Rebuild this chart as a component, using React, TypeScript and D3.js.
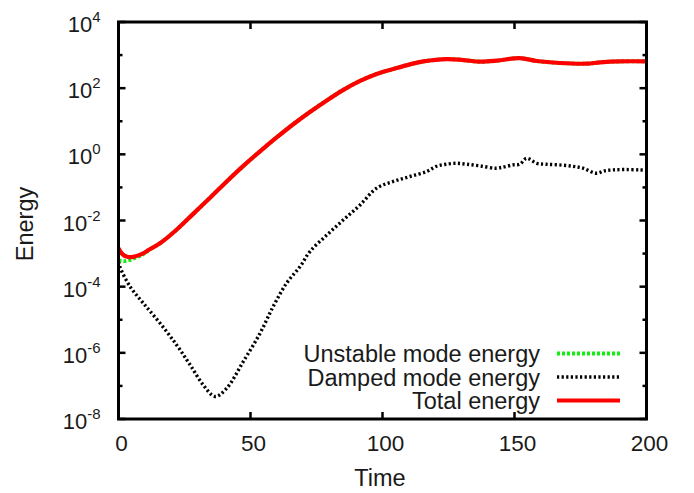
import React from "react";
import * as d3 from "d3";

// ---- data (time, log10 energy) ----
const totalTime = [0, 1, 2, 3, 4.4, 6, 8, 9.4, 12, 15.7, 22, 28.3, 34.7, 41, 47.3, 53.6, 59.9, 66.2, 72.5, 78.9, 85.2, 91.5, 97.8, 104.1, 110.4, 115.5, 124.3, 130.6, 136.9, 143.3, 152, 158.4, 167.2, 177.3, 182.4, 190, 200];
const totalLog = [-2.84, -2.97, -3.05, -3.09, -3.11, -3.09, -3.04, -2.99, -2.86, -2.69, -2.28, -1.8, -1.31, -0.82, -0.35, 0.09, 0.51, 0.91, 1.28, 1.63, 1.95, 2.22, 2.43, 2.58, 2.72, 2.81, 2.88, 2.85, 2.8, 2.83, 2.91, 2.82, 2.76, 2.74, 2.78, 2.81, 2.81];

const unstableTime = [0, 1, 2, 3, 4.4, 6, 8, 9.4, 12, 15.7, 22, 28.3, 34.7, 41, 47.3, 53.6, 59.9, 66.2, 72.5, 78.9, 85.2, 91.5, 97.8, 104.1, 110.4, 115.5, 124.3, 130.6, 136.9, 143.3, 152, 158.4, 167.2, 177.3, 182.4, 190, 200];
const unstableLog = [-3.2, -3.22, -3.23, -3.22, -3.19, -3.14, -3.07, -3.01, -2.87, -2.69, -2.28, -1.8, -1.31, -0.82, -0.35, 0.09, 0.51, 0.91, 1.28, 1.63, 1.95, 2.22, 2.43, 2.58, 2.72, 2.81, 2.88, 2.85, 2.8, 2.83, 2.91, 2.82, 2.76, 2.74, 2.78, 2.81, 2.81];

const dampedTime = [0, 0.6, 4.4, 9.4, 15.7, 22, 27.1, 32.1, 36.6, 41, 47.3, 53.6, 58.6, 63.7, 68.8, 72.5, 78.9, 85.2, 91.5, 97.8, 104.1, 110.4, 116.7, 120.5, 124, 128, 132, 137, 143, 146, 149.5, 152, 154.6, 158.4, 162, 167, 172, 176, 181, 184, 187.4, 192, 197.5, 200];
const dampedLog = [-3.25, -3.42, -4.0, -4.5, -5.1, -5.76, -6.36, -6.97, -7.32, -7.07, -6.26, -5.41, -4.6, -3.89, -3.39, -2.94, -2.44, -1.98, -1.53, -1.02, -0.82, -0.67, -0.52, -0.36, -0.3, -0.27, -0.3, -0.35, -0.42, -0.38, -0.32, -0.3, -0.12, -0.27, -0.3, -0.32, -0.36, -0.42, -0.57, -0.5, -0.47, -0.46, -0.47, -0.48];

const xTicks = [0, 50, 100, 150, 200];
const yMajorExp = [-8, -6, -4, -2, 0, 2, 4];
const yMinorExp = [-7, -5, -3, -1, 1, 3];

const seriesNames = ["Unstable mode energy", "Damped mode energy", "Total energy"];

const W = 694;
const H = 493;
const left = 118.5;
const right = 646.5;
const top = 22;
const bottom = 419;
const FONT = "'Liberation Sans', Arial, Helvetica, sans-serif";
const TXT = "#1a1a1a";

export default function App() {
  const x = d3.scaleLinear().domain([0, 200]).range([left, right]);
  const y = d3.scaleLog().domain([1e-8, 1e4]).range([bottom, top]);

  const mk = (ts: number[], ls: number[]) =>
    ts.map((t, i) => [t, Math.pow(10, ls[i])] as [number, number]);

  const line = d3
    .line<[number, number]>()
    .x((d) => x(d[0]))
    .y((d) => y(d[1]))
    .curve(d3.curveCatmullRom.alpha(0.5));

  const unstable = mk(unstableTime, unstableLog);
  const damped = mk(dampedTime, dampedLog);
  const total = mk(totalTime, totalLog);

  const styles = [
    { stroke: "#11ee11", width: 4, dash: "3,2" },
    { stroke: "#000000", width: 3.4, dash: "2.2,2.4" },
    { stroke: "#ff0000", width: 4.2, dash: undefined as string | undefined },
  ];

  return (
    <svg
      width={W}
      height={H}
      style={{ position: "fixed", left: 0, top: 0, background: "#fff" }}
      fontFamily={FONT}
    >
      <rect x={0} y={0} width={W} height={H} fill="#fff" />
      <defs>
        <clipPath id="plot">
          <rect x={left} y={top} width={right - left} height={bottom - top} />
        </clipPath>
      </defs>

      {/* ticks */}
      {xTicks.map((t) => (
        <g key={"xt" + t} stroke="#000" strokeWidth={2.5}>
          <line x1={x(t)} x2={x(t)} y1={bottom} y2={bottom - 7} />
          <line x1={x(t)} x2={x(t)} y1={top} y2={top + 7} />
        </g>
      ))}
      {yMajorExp.map((e) => (
        <g key={"ym" + e} stroke="#000" strokeWidth={2.5}>
          <line x1={left} x2={left + 7} y1={y(Math.pow(10, e))} y2={y(Math.pow(10, e))} />
          <line x1={right} x2={right - 7} y1={y(Math.pow(10, e))} y2={y(Math.pow(10, e))} />
        </g>
      ))}
      {yMinorExp.map((e) => (
        <g key={"yn" + e} stroke="#000" strokeWidth={2.5}>
          <line x1={left} x2={left + 4} y1={y(Math.pow(10, e))} y2={y(Math.pow(10, e))} />
          <line x1={right} x2={right - 4} y1={y(Math.pow(10, e))} y2={y(Math.pow(10, e))} />
        </g>
      ))}

      {/* tick labels */}
      {xTicks.map((t) => (
        <text key={"xl" + t} x={x(t) + 3} y={451} textAnchor="middle" fontSize={22.5} fill={TXT}>
          {t}
        </text>
      ))}
      {yMajorExp.map((e) => (
        <text key={"yl" + e} x={100.5} y={y(Math.pow(10, e)) + 10} textAnchor="end" fontSize={22} fill={TXT}>
          10
          <tspan dy={-10} fontSize={15}>
            {e}
          </tspan>
        </text>
      ))}

      {/* axis titles */}
      <text x={380} y={486} textAnchor="middle" fontSize={23.5} fill={TXT}>
        Time
      </text>
      <text
        transform={`translate(33,224) rotate(-90)`}
        textAnchor="middle"
        fontSize={23.5}
        fill={TXT}
      >
        Energy
      </text>

      {/* curves */}
      <g clipPath="url(#plot)" fill="none">
        {[unstable, damped, total].map((data, i) => (
          <path
            key={"c" + i}
            d={line(data) || ""}
            stroke={styles[i].stroke}
            strokeWidth={styles[i].width}
            strokeDasharray={styles[i].dash}
            strokeLinejoin="round"
          />
        ))}
      </g>

      {/* legend */}
      {seriesNames.map((name, i) => {
        const base = 362 + i * 23.5;
        return (
          <g key={"lg" + i}>
            <text x={540} y={base} textAnchor="end" fontSize={23.5} fill={TXT}>
              {name}
            </text>
            <line
              x1={557}
              x2={620}
              y1={base - 8.5}
              y2={base - 8.5}
              stroke={styles[i].stroke}
              strokeWidth={styles[i].width}
              strokeDasharray={styles[i].dash}
            />
          </g>
        );
      })}

      {/* frame */}
      <rect
        x={left}
        y={top}
        width={right - left}
        height={bottom - top}
        fill="none"
        stroke="#000"
        strokeWidth={3}
      />
    </svg>
  );
}
